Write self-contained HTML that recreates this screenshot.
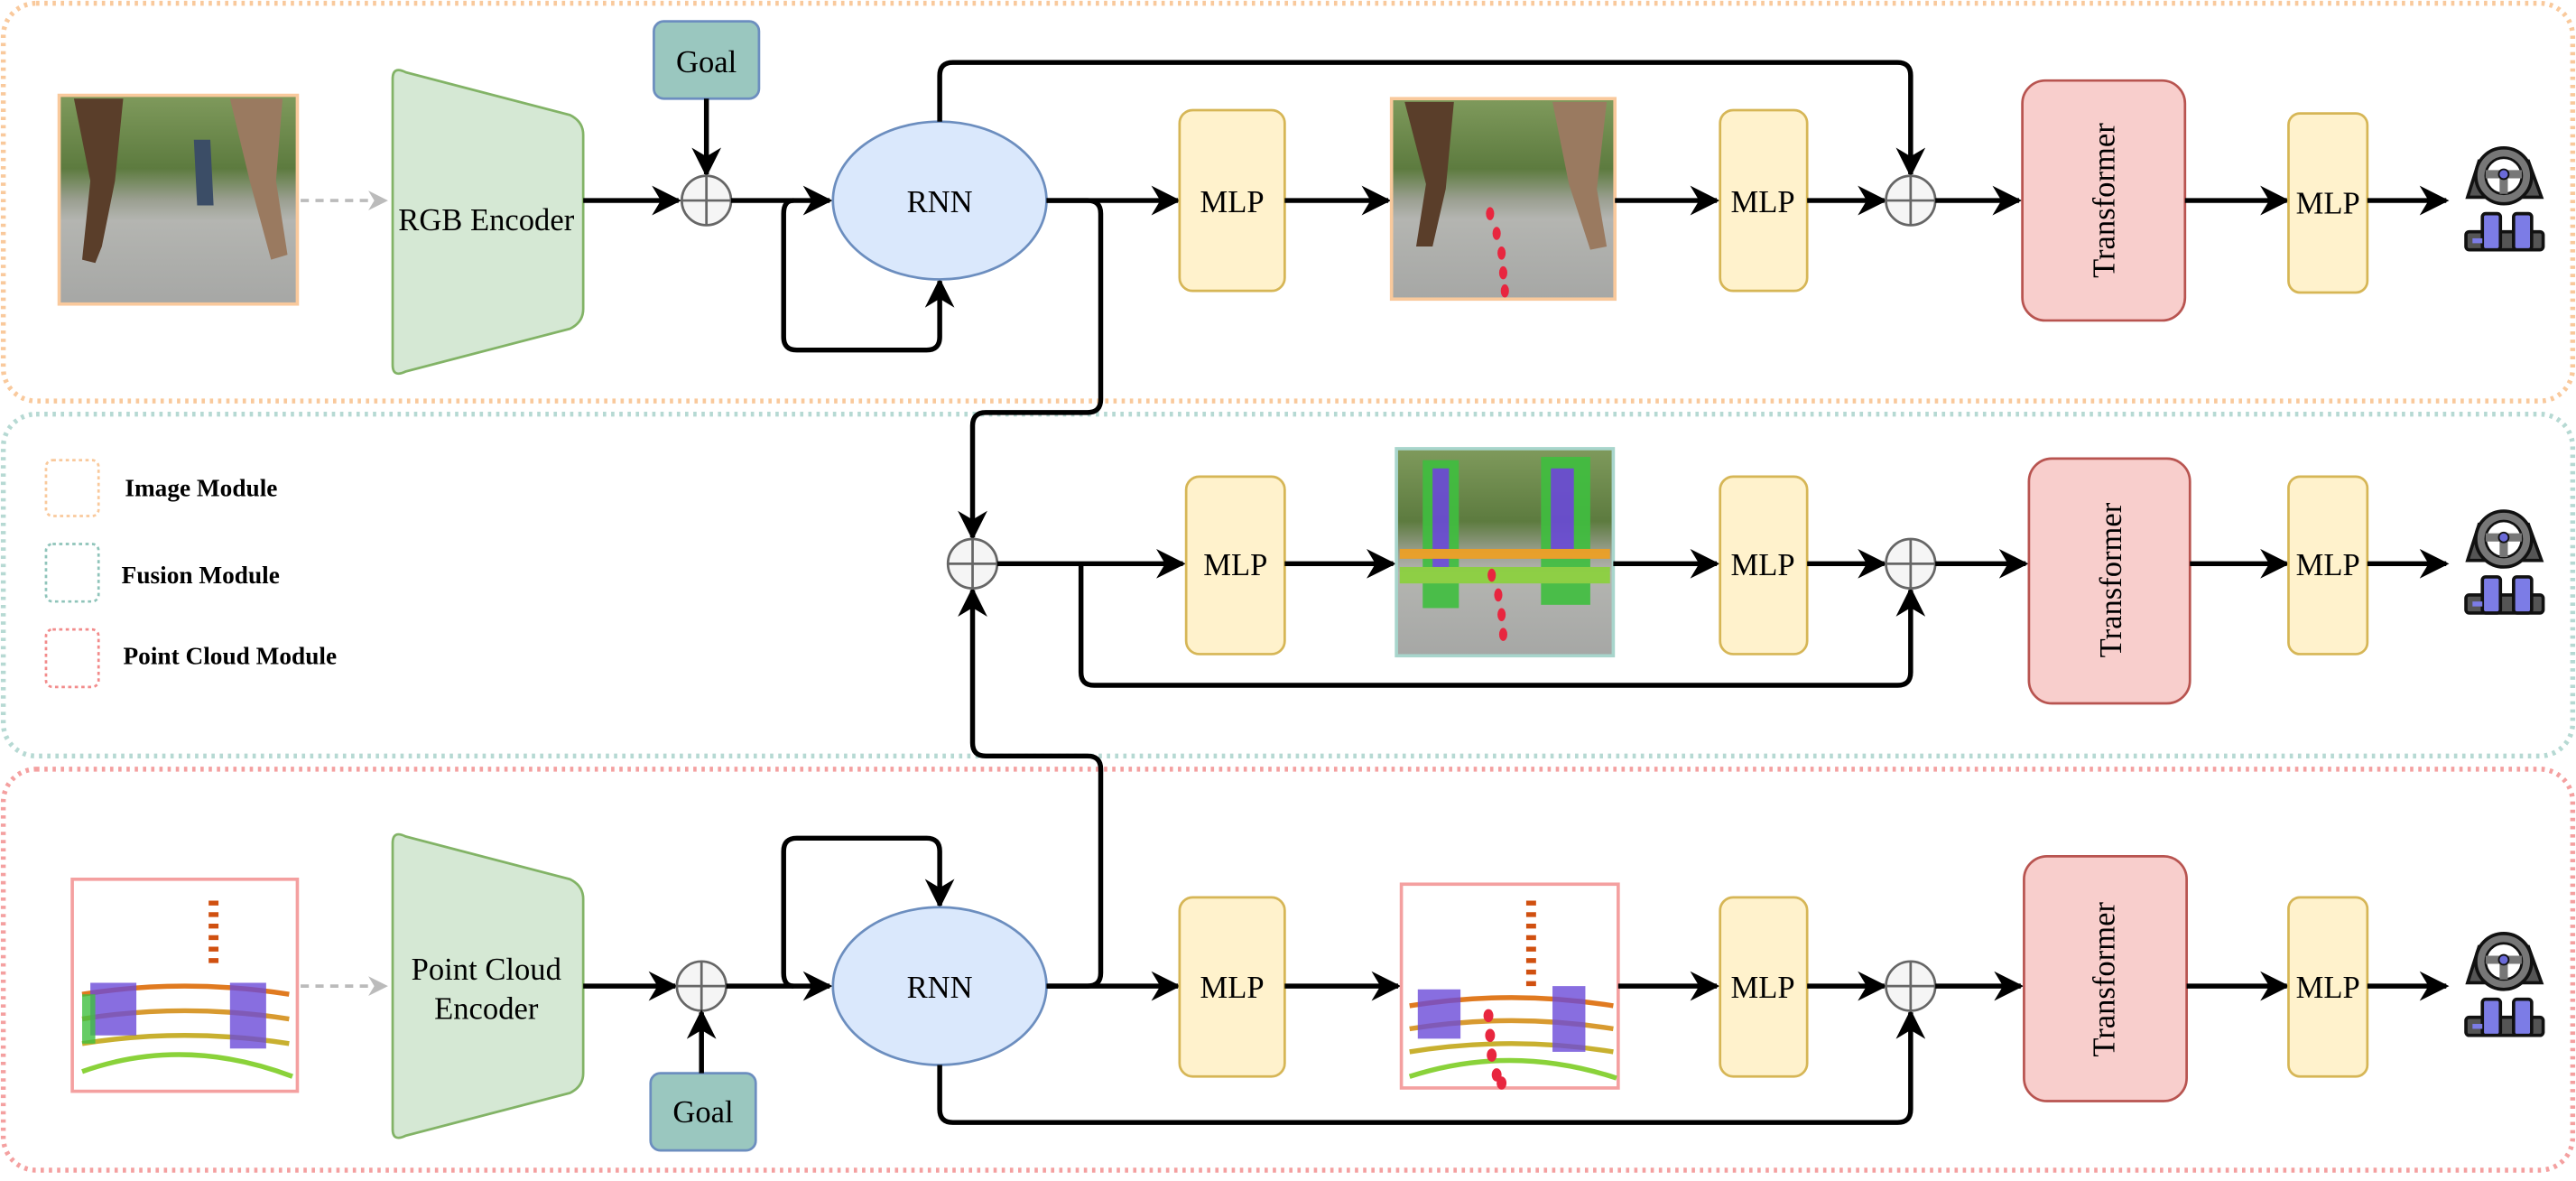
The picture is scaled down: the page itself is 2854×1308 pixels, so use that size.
<!DOCTYPE html>
<html><head><meta charset="utf-8"><style>
html,body{margin:0;padding:0;background:#fff;}
svg{display:block;}
text{font-family:"Liberation Serif",serif;fill:#000;}
</style></head><body>
<svg width="2854" height="1308" viewBox="0 0 1568 718.6" preserveAspectRatio="none" xmlns="http://www.w3.org/2000/svg">
<defs>
<marker id="ah" viewBox="0 0 10 10" refX="9" refY="5" markerWidth="6" markerHeight="6" orient="auto"><path d="M0,0 L10,5 L0,10 L3,5 z" fill="#000"/></marker>
<marker id="ahg" viewBox="0 0 10 10" refX="9" refY="5" markerWidth="6" markerHeight="6" orient="auto"><path d="M0,0 L10,5 L0,10 L3,5 z" fill="#bbb"/></marker>
<linearGradient id="photo" x1="0" y1="0" x2="0" y2="1">
<stop offset="0" stop-color="#7f9a5c"/><stop offset="0.35" stop-color="#5d7b3f"/><stop offset="0.5" stop-color="#9a9f90"/><stop offset="0.6" stop-color="#b4b5b1"/><stop offset="1" stop-color="#a6a7a5"/></linearGradient>
<g id="icon">
<path d="M1502,120 L1509,98 L1539,98 L1547,120 Z" fill="#555" stroke="#111" stroke-width="2"/>
<circle cx="1524" cy="107" r="17" fill="#777" stroke="#111" stroke-width="2"/>
<circle cx="1524" cy="107" r="11" fill="#fff" stroke="#111" stroke-width="1.5"/>
<path d="M1513,106 L1535,106 M1524,106 L1524,118" stroke="#777" stroke-width="5"/>
<circle cx="1524" cy="106" r="3" fill="#6a6ad8" stroke="#111" stroke-width="1"/>
<rect x="1501" y="141" width="47" height="11" rx="2" fill="#555" stroke="#111" stroke-width="2"/>
<rect x="1511" y="130" width="11" height="22" rx="2" fill="#7c7ce6" stroke="#111" stroke-width="2"/>
<rect x="1530" y="130" width="11" height="22" rx="2" fill="#7c7ce6" stroke="#111" stroke-width="2"/>
<rect x="1505" y="145" width="6" height="3" fill="#7c7ce6"/>
</g>
</defs>

<!-- panels -->
<rect x="2" y="2" width="1564" height="242" rx="20" fill="none" stroke="#f9c99c" stroke-width="3" stroke-dasharray="2 3"/>
<rect x="2" y="252" width="1564" height="208" rx="20" fill="none" stroke="#b6d9d3" stroke-width="3" stroke-dasharray="2 3"/>
<rect x="2" y="468" width="1564" height="244" rx="20" fill="none" stroke="#f4a0a0" stroke-width="3" stroke-dasharray="2 3"/>

<!-- legend -->
<rect x="28" y="280" width="32" height="34" rx="4" fill="none" stroke="#f9c99c" stroke-width="1.5" stroke-dasharray="2 2"/>
<rect x="28" y="331" width="32" height="35" rx="4" fill="none" stroke="#8fc4ba" stroke-width="1.5" stroke-dasharray="2 2"/>
<rect x="28" y="383" width="32" height="35" rx="4" fill="none" stroke="#f28b8b" stroke-width="1.5" stroke-dasharray="2 2"/>
<text x="76" y="302" font-size="15" font-weight="bold">Image Module</text>
<text x="74" y="355" font-size="15" font-weight="bold">Fusion Module</text>
<text x="75" y="404" font-size="15" font-weight="bold">Point Cloud Module</text>

<!-- ===== Row 1 ===== -->
<rect x="36" y="58" width="145" height="127" fill="url(#photo)" stroke="#f9c99c" stroke-width="2"/>
<path d="M45,60 L75,60 L70,110 L62,150 L58,160 L50,158 L55,110 Z" fill="#5a3e2a"/>
<path d="M140,60 L172,60 L168,110 L175,155 L165,158 L152,110 Z" fill="#9a7a60"/>
<path d="M118,85 L128,85 L130,125 L120,125 Z" fill="#3b4d66"/>
<line x1="183" y1="122" x2="235" y2="122" stroke="#bbb" stroke-width="2" stroke-dasharray="5 4" marker-end="url(#ahg)"/>
<path d="M239,48 Q239,40 247,44 L347,70 Q355,74 355,82 L355,188 Q355,196 347,200 L247,226 Q239,230 239,222 Z" fill="#d5e8d4" stroke="#82b366" stroke-width="1.5"/>
<text x="296" y="140" font-size="19" text-anchor="middle">RGB Encoder</text>
<rect x="398" y="13" width="64" height="47" rx="6" fill="#9ac7bf" stroke="#6c8ebf" stroke-width="1.5"/>
<text x="430" y="44" font-size="19" text-anchor="middle">Goal</text>
<line x1="430" y1="60" x2="430" y2="106" stroke="#000" stroke-width="3" marker-end="url(#ah)"/>
<line x1="355" y1="122" x2="413" y2="122" stroke="#000" stroke-width="3" marker-end="url(#ah)"/>
<circle cx="430" cy="122" r="15" fill="#f5f5f5" stroke="#666" stroke-width="1.5"/>
<path d="M415,122 H445 M430,107 V137" stroke="#666" stroke-width="1.5"/>
<line x1="445" y1="122" x2="505" y2="122" stroke="#000" stroke-width="3" marker-end="url(#ah)"/>
<path d="M483,122 Q477,122 477,130 L477,205 Q477,213 485,213 L564,213 Q572,213 572,205 L572,171" fill="none" stroke="#000" stroke-width="3" marker-end="url(#ah)"/>
<ellipse cx="572" cy="122" rx="65" ry="48" fill="#dae8fc" stroke="#6c8ebf" stroke-width="1.5"/>
<text x="572" y="129" font-size="19" text-anchor="middle">RNN</text>
<path d="M572,74 L572,46 Q572,38 580,38 L1155,38 Q1163,38 1163,46 L1163,106" fill="none" stroke="#000" stroke-width="3" marker-end="url(#ah)"/>
<line x1="637" y1="122" x2="717" y2="122" stroke="#000" stroke-width="3" marker-end="url(#ah)"/>
<path d="M637,122 L662,122 Q670,122 670,130 L670,243 Q670,251 662,251 L600,251 Q592,251 592,259 L592,327" fill="none" stroke="#000" stroke-width="3" marker-end="url(#ah)"/>
<rect x="718" y="67" width="64" height="110" rx="8" fill="#fff2cc" stroke="#d6b656" stroke-width="1.5"/>
<text x="750" y="129" font-size="19" text-anchor="middle">MLP</text>
<line x1="782" y1="122" x2="845" y2="122" stroke="#000" stroke-width="3" marker-end="url(#ah)"/>
<rect x="847" y="60" width="136" height="122" fill="url(#photo)" stroke="#f9c99c" stroke-width="2"/>
<path d="M855,62 L885,62 L880,115 L872,150 L862,150 L868,112 Z" fill="#5a3e2a"/>
<path d="M945,62 L978,62 L972,115 L978,150 L968,152 L955,112 Z" fill="#9a7a60"/>
<g fill="#e8263f"><ellipse cx="907" cy="130" rx="2.5" ry="4"/><ellipse cx="911" cy="142" rx="2.5" ry="4"/><ellipse cx="914" cy="154" rx="2.5" ry="4"/><ellipse cx="915" cy="166" rx="2.5" ry="4"/><ellipse cx="916" cy="177" rx="2.5" ry="4"/></g>
<line x1="983" y1="122" x2="1045" y2="122" stroke="#000" stroke-width="3" marker-end="url(#ah)"/>
<rect x="1047" y="67" width="53" height="110" rx="8" fill="#fff2cc" stroke="#d6b656" stroke-width="1.5"/>
<text x="1073" y="129" font-size="19" text-anchor="middle">MLP</text>
<line x1="1100" y1="122" x2="1147" y2="122" stroke="#000" stroke-width="3" marker-end="url(#ah)"/>
<circle cx="1163" cy="122" r="15" fill="#f5f5f5" stroke="#666" stroke-width="1.5"/>
<path d="M1148,122 H1178 M1163,107 V137" stroke="#666" stroke-width="1.5"/>
<line x1="1178" y1="122" x2="1229" y2="122" stroke="#000" stroke-width="3" marker-end="url(#ah)"/>
<rect x="1231" y="49" width="99" height="146" rx="14" fill="#f8cecc" stroke="#b85450" stroke-width="1.5"/>
<text x="0" y="0" font-size="19" text-anchor="middle" transform="translate(1287,122) rotate(-90)">Transformer</text>
<line x1="1330" y1="122" x2="1392" y2="122" stroke="#000" stroke-width="3" marker-end="url(#ah)"/>
<rect x="1393" y="69" width="48" height="109" rx="7" fill="#fff2cc" stroke="#d6b656" stroke-width="1.5"/>
<text x="1417" y="130" font-size="19" text-anchor="middle">MLP</text>
<line x1="1441" y1="122" x2="1489" y2="122" stroke="#000" stroke-width="3" marker-end="url(#ah)"/>
<use href="#icon"/>

<!-- ===== Row 2 (fusion) ===== -->
<path d="M637,600 L662,600 Q670,600 670,592 L670,468 Q670,460 662,460 L600,460 Q592,460 592,452 L592,359" fill="none" stroke="#000" stroke-width="3" marker-end="url(#ah)"/>
<circle cx="592" cy="343" r="15" fill="#f5f5f5" stroke="#666" stroke-width="1.5"/>
<path d="M577,343 H607 M592,328 V358" stroke="#666" stroke-width="1.5"/>
<line x1="607" y1="343" x2="720" y2="343" stroke="#000" stroke-width="3" marker-end="url(#ah)"/>
<path d="M658,343 L658,409 Q658,417 666,417 L1155,417 Q1163,417 1163,409 L1163,359" fill="none" stroke="#000" stroke-width="3" marker-end="url(#ah)"/>
<rect x="722" y="290" width="60" height="108" rx="8" fill="#fff2cc" stroke="#d6b656" stroke-width="1.5"/>
<text x="752" y="350" font-size="19" text-anchor="middle">MLP</text>
<line x1="782" y1="343" x2="848" y2="343" stroke="#000" stroke-width="3" marker-end="url(#ah)"/>
<rect x="850" y="273" width="132" height="126" fill="url(#photo)" stroke="#a8d5cc" stroke-width="2"/>
<g opacity="0.9">
<rect x="866" y="280" width="22" height="90" fill="#3fbf3f"/><rect x="872" y="285" width="10" height="60" fill="#6a4ad8"/>
<rect x="938" y="278" width="30" height="90" fill="#3fbf3f"/><rect x="944" y="285" width="14" height="55" fill="#6a4ad8"/>
<rect x="852" y="345" width="128" height="10" fill="#8ad23a"/><rect x="852" y="334" width="128" height="6" fill="#f0a020"/>
</g>
<g fill="#e8263f"><ellipse cx="908" cy="350" rx="2.5" ry="4"/><ellipse cx="912" cy="362" rx="2.5" ry="4"/><ellipse cx="914" cy="374" rx="2.5" ry="4"/><ellipse cx="915" cy="386" rx="2.5" ry="4"/></g>
<line x1="982" y1="343" x2="1045" y2="343" stroke="#000" stroke-width="3" marker-end="url(#ah)"/>
<rect x="1047" y="290" width="53" height="108" rx="8" fill="#fff2cc" stroke="#d6b656" stroke-width="1.5"/>
<text x="1073" y="350" font-size="19" text-anchor="middle">MLP</text>
<line x1="1100" y1="343" x2="1147" y2="343" stroke="#000" stroke-width="3" marker-end="url(#ah)"/>
<circle cx="1163" cy="343" r="15" fill="#f5f5f5" stroke="#666" stroke-width="1.5"/>
<path d="M1148,343 H1178 M1163,328 V358" stroke="#666" stroke-width="1.5"/>
<line x1="1178" y1="343" x2="1233" y2="343" stroke="#000" stroke-width="3" marker-end="url(#ah)"/>
<rect x="1235" y="279" width="98" height="149" rx="14" fill="#f8cecc" stroke="#b85450" stroke-width="1.5"/>
<text x="0" y="0" font-size="19" text-anchor="middle" transform="translate(1291,353) rotate(-90)">Transformer</text>
<line x1="1333" y1="343" x2="1392" y2="343" stroke="#000" stroke-width="3" marker-end="url(#ah)"/>
<rect x="1393" y="290" width="48" height="108" rx="7" fill="#fff2cc" stroke="#d6b656" stroke-width="1.5"/>
<text x="1417" y="350" font-size="19" text-anchor="middle">MLP</text>
<line x1="1441" y1="343" x2="1489" y2="343" stroke="#000" stroke-width="3" marker-end="url(#ah)"/>
<use href="#icon" transform="translate(0,221)"/>

<!-- ===== Row 3 (point cloud) ===== -->
<rect x="44" y="535" width="137" height="129" fill="#fff" stroke="#f4a0a0" stroke-width="2"/>
<g fill="none" stroke-width="3">
<path d="M50,605 Q112,595 176,605" stroke="#e07a20"/><path d="M50,620 Q112,610 176,620" stroke="#d89a30"/>
<path d="M50,635 Q112,625 176,635" stroke="#c8b030"/><path d="M50,652 Q112,630 178,655" stroke="#8ad23a"/>
<path d="M130,548 L130,590" stroke="#d05010" stroke-dasharray="3 4" stroke-width="6"/>
</g>
<rect x="55" y="598" width="28" height="32" fill="#6a4ad8" opacity="0.8"/><rect x="140" y="598" width="22" height="40" fill="#6a4ad8" opacity="0.8"/>
<rect x="50" y="605" width="8" height="30" fill="#3fbf3f" opacity="0.8"/>
<line x1="183" y1="600" x2="235" y2="600" stroke="#bbb" stroke-width="2" stroke-dasharray="5 4" marker-end="url(#ahg)"/>
<path d="M239,513 Q239,505 247,509 L347,535 Q355,539 355,547 L355,653 Q355,661 347,665 L247,691 Q239,695 239,687 Z" fill="#d5e8d4" stroke="#82b366" stroke-width="1.5"/>
<text x="296" y="596" font-size="19" text-anchor="middle">Point Cloud</text>
<text x="296" y="620" font-size="19" text-anchor="middle">Encoder</text>
<line x1="355" y1="600" x2="411" y2="600" stroke="#000" stroke-width="3" marker-end="url(#ah)"/>
<circle cx="427" cy="600" r="15" fill="#f5f5f5" stroke="#666" stroke-width="1.5"/>
<path d="M412,600 H442 M427,585 V615" stroke="#666" stroke-width="1.5"/>
<rect x="396" y="653" width="64" height="47" rx="6" fill="#9ac7bf" stroke="#6c8ebf" stroke-width="1.5"/>
<text x="428" y="683" font-size="19" text-anchor="middle">Goal</text>
<line x1="427" y1="653" x2="427" y2="616" stroke="#000" stroke-width="3" marker-end="url(#ah)"/>
<line x1="442" y1="600" x2="505" y2="600" stroke="#000" stroke-width="3" marker-end="url(#ah)"/>
<path d="M483,600 Q477,600 477,592 L477,518 Q477,510 485,510 L564,510 Q572,510 572,518 L572,551" fill="none" stroke="#000" stroke-width="3" marker-end="url(#ah)"/>
<ellipse cx="572" cy="600" rx="65" ry="48" fill="#dae8fc" stroke="#6c8ebf" stroke-width="1.5"/>
<text x="572" y="607" font-size="19" text-anchor="middle">RNN</text>
<path d="M572,648 L572,675 Q572,683 580,683 L1155,683 Q1163,683 1163,675 L1163,616" fill="none" stroke="#000" stroke-width="3" marker-end="url(#ah)"/>
<line x1="637" y1="600" x2="717" y2="600" stroke="#000" stroke-width="3" marker-end="url(#ah)"/>
<rect x="718" y="546" width="64" height="109" rx="8" fill="#fff2cc" stroke="#d6b656" stroke-width="1.5"/>
<text x="750" y="607" font-size="19" text-anchor="middle">MLP</text>
<line x1="782" y1="600" x2="851" y2="600" stroke="#000" stroke-width="3" marker-end="url(#ah)"/>
<rect x="853" y="538" width="132" height="124" fill="#fff" stroke="#f4a0a0" stroke-width="2"/>
<g fill="none" stroke-width="3">
<path d="M858,612 Q920,602 982,612" stroke="#e07a20"/><path d="M858,626 Q920,616 982,626" stroke="#d89a30"/>
<path d="M858,640 Q920,630 982,640" stroke="#c8b030"/><path d="M858,655 Q920,635 984,656" stroke="#8ad23a"/>
<path d="M932,548 L932,600" stroke="#d05010" stroke-dasharray="3 4" stroke-width="6"/>
</g>
<rect x="863" y="602" width="26" height="30" fill="#6a4ad8" opacity="0.8"/><rect x="945" y="600" width="20" height="40" fill="#6a4ad8" opacity="0.8"/>
<g fill="#e8263f"><ellipse cx="906" cy="618" rx="3" ry="4"/><ellipse cx="907" cy="630" rx="3" ry="4"/><ellipse cx="908" cy="642" rx="3" ry="4"/><ellipse cx="911" cy="654" rx="3" ry="4"/><ellipse cx="914" cy="659" rx="3" ry="4"/></g>
<line x1="985" y1="600" x2="1045" y2="600" stroke="#000" stroke-width="3" marker-end="url(#ah)"/>
<rect x="1047" y="546" width="53" height="109" rx="8" fill="#fff2cc" stroke="#d6b656" stroke-width="1.5"/>
<text x="1073" y="607" font-size="19" text-anchor="middle">MLP</text>
<line x1="1100" y1="600" x2="1147" y2="600" stroke="#000" stroke-width="3" marker-end="url(#ah)"/>
<circle cx="1163" cy="600" r="15" fill="#f5f5f5" stroke="#666" stroke-width="1.5"/>
<path d="M1148,600 H1178 M1163,585 V615" stroke="#666" stroke-width="1.5"/>
<line x1="1178" y1="600" x2="1230" y2="600" stroke="#000" stroke-width="3" marker-end="url(#ah)"/>
<rect x="1232" y="521" width="99" height="149" rx="14" fill="#f8cecc" stroke="#b85450" stroke-width="1.5"/>
<text x="0" y="0" font-size="19" text-anchor="middle" transform="translate(1287,596) rotate(-90)">Transformer</text>
<line x1="1331" y1="600" x2="1392" y2="600" stroke="#000" stroke-width="3" marker-end="url(#ah)"/>
<rect x="1393" y="546" width="48" height="109" rx="7" fill="#fff2cc" stroke="#d6b656" stroke-width="1.5"/>
<text x="1417" y="607" font-size="19" text-anchor="middle">MLP</text>
<line x1="1441" y1="600" x2="1489" y2="600" stroke="#000" stroke-width="3" marker-end="url(#ah)"/>
<use href="#icon" transform="translate(0,478)"/>
</svg>
</body></html>
